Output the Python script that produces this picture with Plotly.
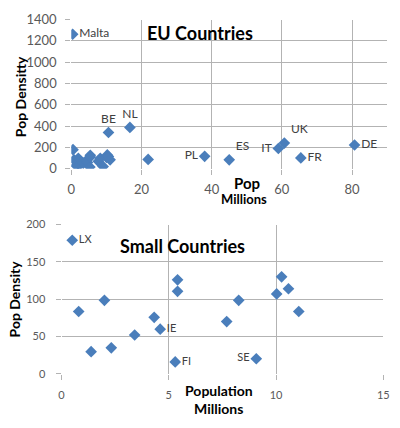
import plotly.graph_objects as go

# EU countries: population (millions) and population density
countries = ["MT", "LX", "EE", "LV", "SI", "LT", "HR", "SK", "IE", "FI", "DK",
             "BG", "AT", "BG2", "SE", "HU", "PT", "CZ", "GR", "BE", "NL", "RO",
             "PL", "ES", "IT", "UK", "FR", "DE"]
pop_millions = [0.4, 0.5, 0.8, 1.38, 2.0, 2.32, 3.41, 4.32, 4.6, 5.3, 5.41,
                5.41, 7.7, 8.26, 9.08, 10.03, 10.26, 10.58, 11.06, 10.6, 16.7, 21.9,
                38, 45, 59, 60.7, 65.4, 80.7]
pop_density = [1262, 179, 83.5, 29.7, 98.5, 34.8, 52, 75.7, 59.8, 15.9, 126,
               110.6, 70, 98.5, 20.2, 107, 130, 114, 83.5, 340, 388, 88,
               117, 84, 190, 241, 102, 223]

eu_labels = {"MT": "Malta", "BE": "BE", "NL": "NL", "PL": "PL", "ES": "ES",
             "IT": "IT", "UK": "UK", "FR": "FR", "DE": "DE"}
eu_pos = {"MT": "middle right", "BE": "top center", "NL": "top center",
          "PL": "middle left", "ES": "top right", "IT": "middle left",
          "UK": "top right", "FR": "middle right", "DE": "middle right"}
small_labels = {"LX": "LX", "IE": "IE", "FI": "FI", "SE": "SE"}
small_pos = {"LX": "middle right", "IE": "middle right", "FI": "middle right",
             "SE": "middle left"}

eu_ticks_x = [0, 20, 40, 60, 80]
eu_ticks_y = [0, 200, 400, 600, 800, 1000, 1200, 1400]
small_ticks_x = [0, 5, 10, 15]
small_ticks_y = [0, 50, 100, 150, 200]

FONT = "Lato"
BLUE = "#4a7ebb"
GRID = "#b3b3b3"
TICK = "#595959"

fig = go.Figure()

fig.add_trace(go.Scatter(
    x=pop_millions, y=pop_density,
    mode="markers+text",
    text=[eu_labels.get(c, "") for c in countries],
    textposition=[eu_pos.get(c, "middle right") for c in countries],
    textfont=dict(family=FONT, size=12, color="#404040"),
    marker=dict(symbol="diamond", size=9, color=BLUE),
    xaxis="x", yaxis="y", showlegend=False, hoverinfo="x+y",
))
fig.add_trace(go.Scatter(
    x=pop_millions, y=pop_density,
    mode="markers+text",
    text=[small_labels.get(c, "") for c in countries],
    textposition=[small_pos.get(c, "middle right") for c in countries],
    textfont=dict(family=FONT, size=11, color="#404040"),
    marker=dict(symbol="diamond", size=9, color=BLUE),
    xaxis="x2", yaxis="y2", showlegend=False, hoverinfo="x+y",
))

W, H = 400, 428


def px_x(p):
    return p / W


def px_y(p):
    return 1 - p / H


axis_common = dict(
    showgrid=True, gridcolor=GRID, gridwidth=1, zeroline=False,
    showline=False, ticks="outside", ticklen=5, tickcolor=GRID,
    tickfont=dict(family=FONT, color=TICK), ticklabeloverflow="allow",
)

fig.update_layout(
    width=W, height=H,
    margin=dict(l=0, r=0, t=0, b=0),
    paper_bgcolor="white", plot_bgcolor="white",
    font=dict(family=FONT),
    xaxis=dict(axis_common, domain=[px_x(69), px_x(393)], range=[0, 90],
               tickvals=eu_ticks_x, tickfont_size=13, anchor="y",
               ticklabelstandoff=4),
    yaxis=dict(axis_common, domain=[px_y(167), px_y(12)], range=[0, 1400],
               tickvals=eu_ticks_y, tickfont_size=13, anchor="x",
               ticklabelstandoff=6),
    xaxis2=dict(axis_common, domain=[px_x(59), px_x(389)], range=[0, 15],
                tickvals=small_ticks_x, tickfont_size=11, anchor="y2",
                ticklabelstandoff=6),
    yaxis2=dict(axis_common, domain=[px_y(380), px_y(225)], range=[0, 200],
                tickvals=small_ticks_y, tickfont_size=11, anchor="x2",
                ticklabelstandoff=8),
)

ann = [
    ("<b>EU Countries</b>", 201, 26, 18, 0),
    ("<b>Pop Densitty</b>", 17, 92, 14, -90),
    ("<b>Pop</b>", 249, 182, 15, 0),
    ("<b>Millions</b>", 246, 198, 13, 0),
    ("<b>Small Countries</b>", 183, 247, 18, 0),
    ("<b>Pop Density</b>", 11, 302, 14, -90),
    ("<b>Population</b>", 221, 397, 14, 0),
    ("<b>Millions</b>", 220, 416, 14, 0),
]
for text, x, y, size, angle in ann:
    fig.add_annotation(
        text=text, x=px_x(x), y=px_y(y), xref="paper", yref="paper",
        showarrow=False, textangle=angle, xanchor="center", yanchor="middle",
        font=dict(family=FONT, size=size, color="#000000"),
    )

# drop the default body margin so the figure sits at the window corner
fig.write_html("out.html", config={"displayModeBar": False},
               post_script="document.body.style.margin='0';")
